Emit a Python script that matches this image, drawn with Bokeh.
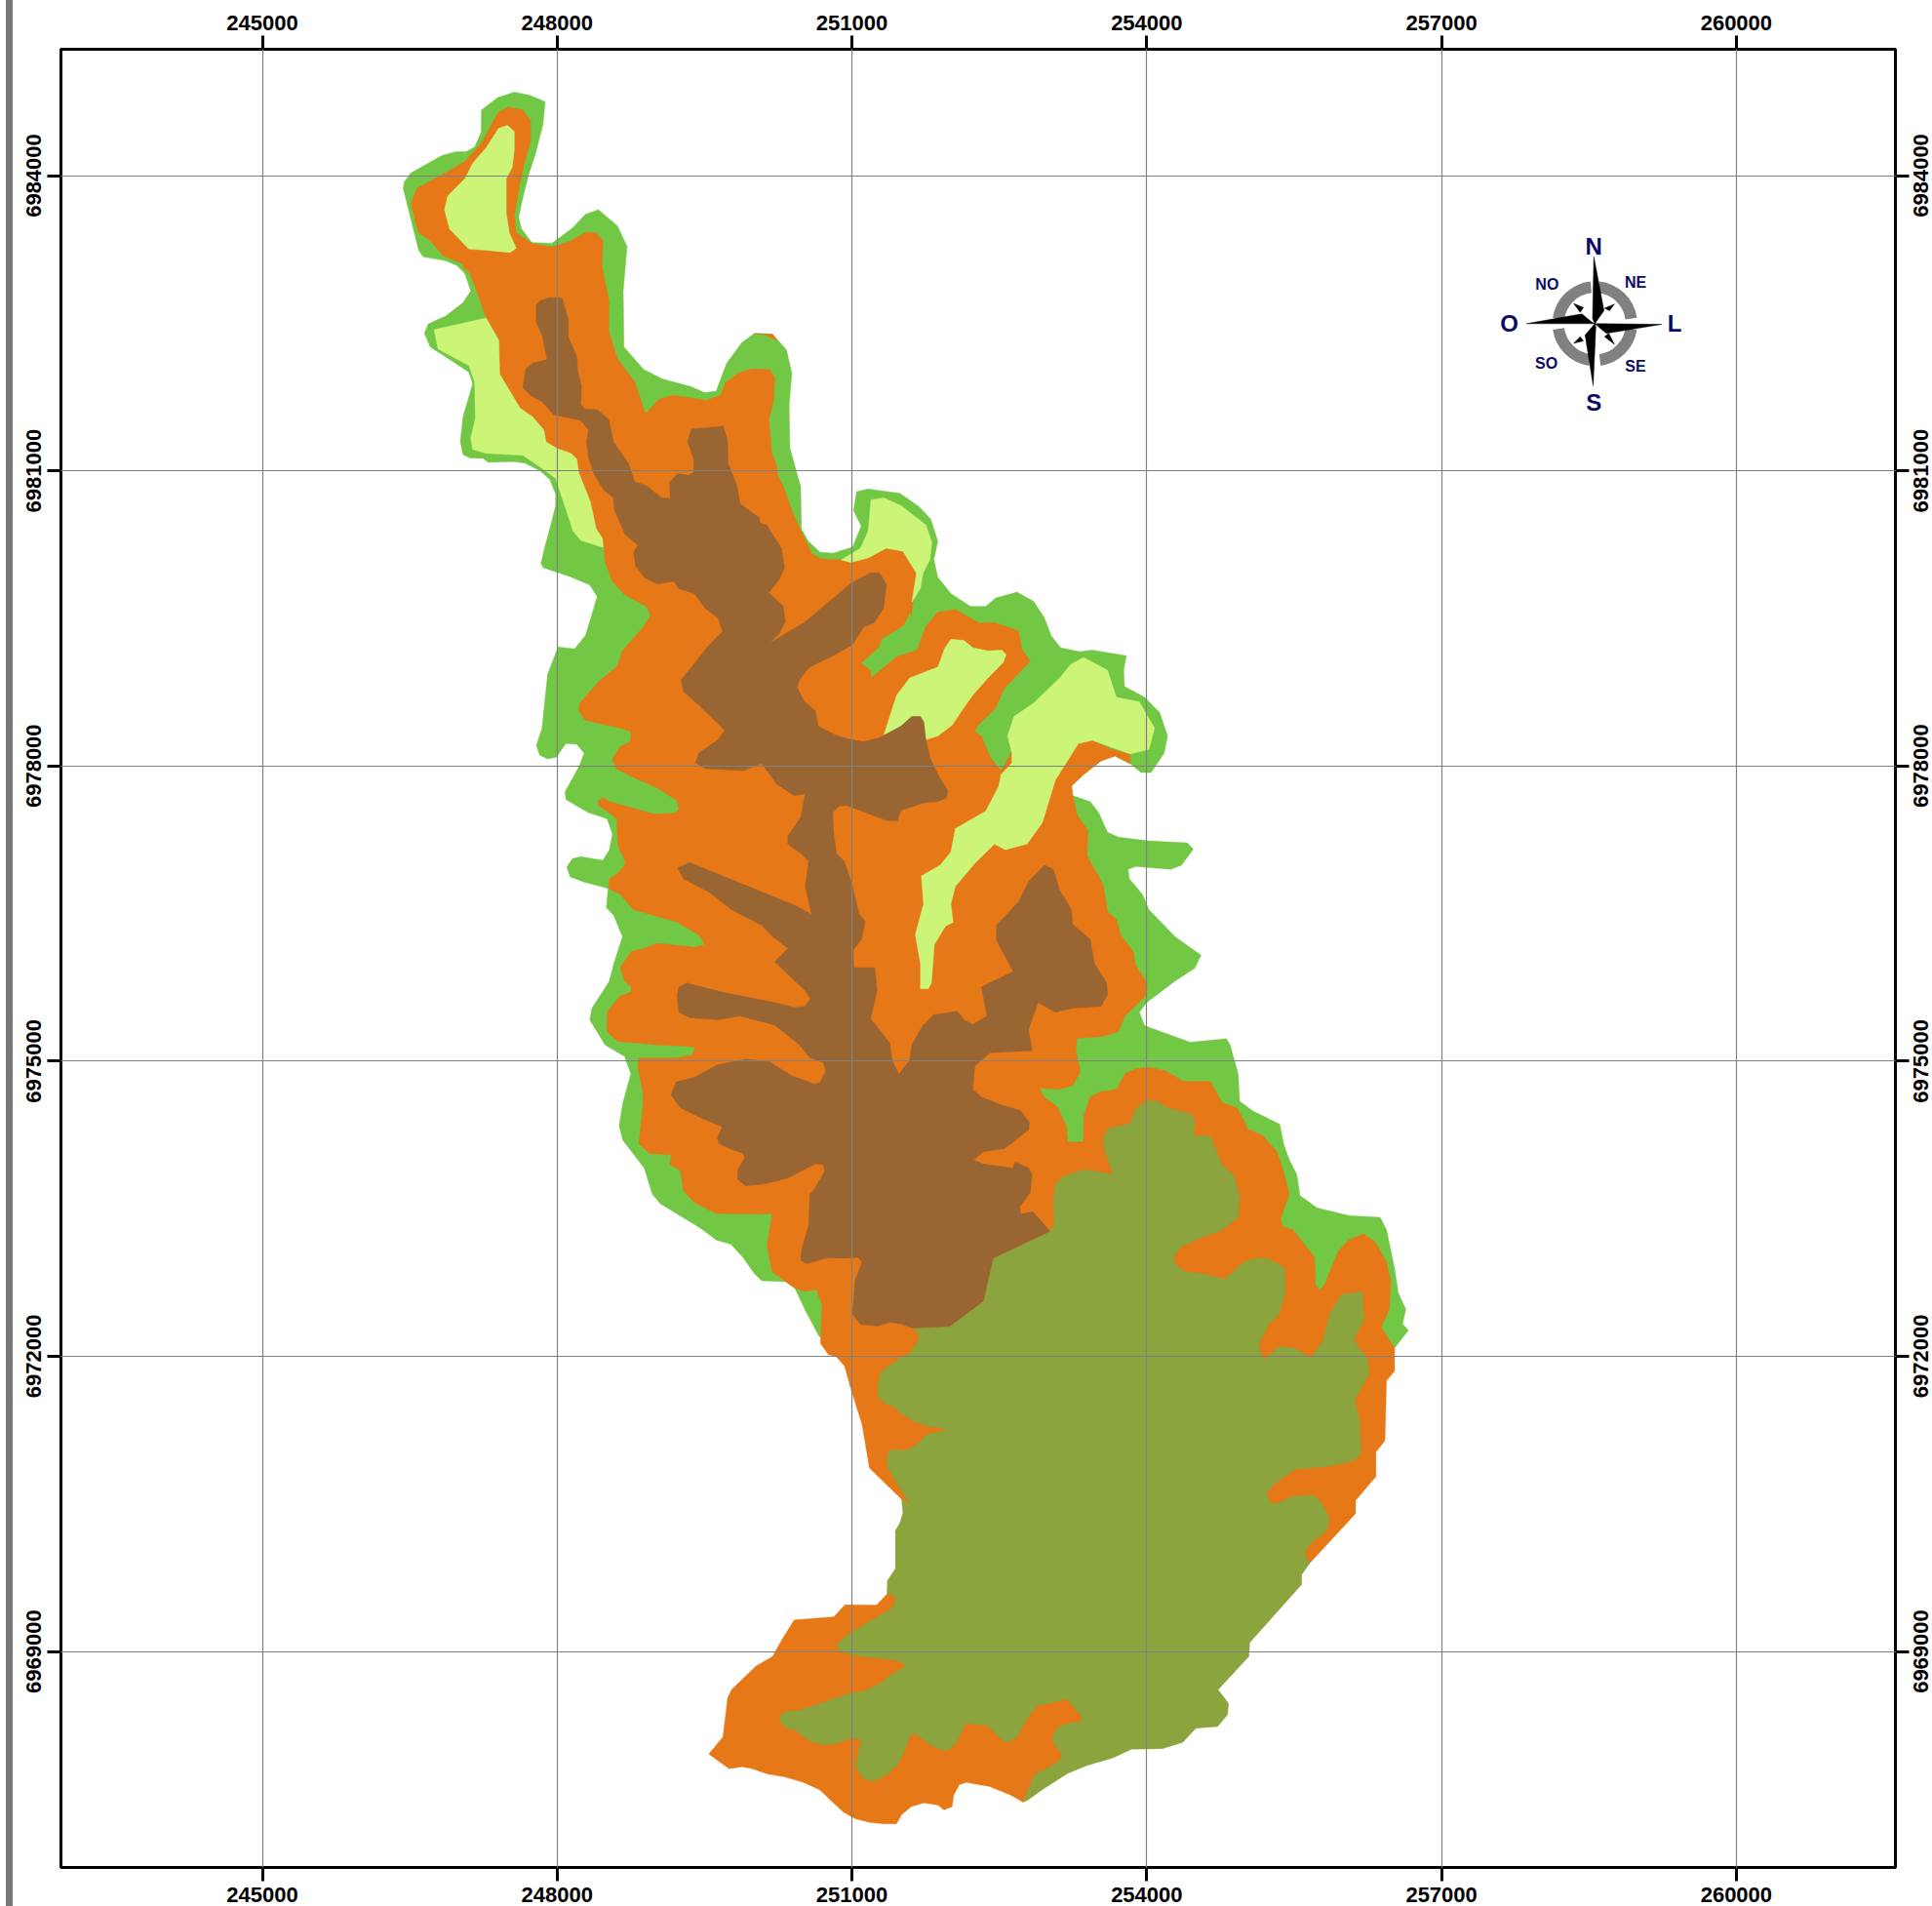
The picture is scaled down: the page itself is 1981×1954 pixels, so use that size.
from bokeh.plotting import figure
from bokeh.embed import file_html
from bokeh.resources import INLINE
from bokeh.layouts import row
from bokeh.models import LinearAxis, FixedTicker, NumeralTickFormatter, Range1d, Div
from bokeh.core.properties import value
import math

x_ticks = [245000, 248000, 251000, 254000, 257000, 260000]
y_ticks = [6969000, 6972000, 6975000, 6978000, 6981000, 6984000]

green_zone = [
(247564,6984849),(247717,6984818),(247878,6984751),(247855,6984519),(247780,6984224),(247709,6984008),(247650,6983772),(247607,6983575),(247639,6983457),(247741,6983320),
(247945,6983312),(248153,6983465),(248287,6983607),(248420,6983654),(248613,6983489),(248711,6983280),(248672,6982828),(248680,6982258),(248880,6982030),(249072,6981932),
(249359,6981857),(249500,6981794),(249618,6981810),(249724,6982093),(249881,6982305),(250007,6982396),(250191,6982388),(250333,6982231),(250388,6981995),(250361,6981668),
(250368,6981236),(250478,6980835),(250486,6980410),(250556,6980284),(250674,6980174),(250804,6980162),(251008,6980225),(251094,6980438),(251016,6980595),(251047,6980788),
(251165,6980815),(251487,6980772),(251684,6980634),(251802,6980508),(251873,6980284),(251834,6980096),(251873,6979919),(252010,6979750),(252207,6979622),(252362,6979622),
(252463,6979708),(252680,6979767),(252849,6979673),(252959,6979504),(253026,6979327),(253123,6979202),(253314,6979162),(253447,6979178),(253792,6979119),(253765,6978974),
(253774,6978809),(253977,6978699),(254132,6978542),(254212,6978306),(254177,6978130),(254044,6977933),(253942,6977933),(253845,6978012),(253677,6978102),(253535,6978051),
(253358,6977914),(253234,6977796),(253247,6977698),(253424,6977639),(253513,6977521),(253601,6977325),(253712,6977277),(254022,6977238),(254412,6977219),(254474,6977156),
(254354,6976991),(254243,6976948),(253889,6976979),(253810,6976948),(253823,6976853),(253956,6976696),(254022,6976539),(254288,6976264),(254553,6976076),(254487,6975942),
(254288,6975813),(254000,6975597),(253925,6975498),(253978,6975361),(254443,6975192),(254810,6975228),(254848,6975168),(254930,6974871),(254946,6974591),(255082,6974492),
(255353,6974360),(255397,6974145),(255451,6973997),(255527,6973848),(255560,6973634),(255734,6973508),(256060,6973429),(256375,6973413),(256440,6973287),(256522,6972891),
(256560,6972644),(256636,6972479),(256603,6972330),(256663,6972264),(256522,6972083),(250668,6972198),(250527,6972462),(250418,6972693),(250326,6972759),(250081,6972769),
(250005,6972842),(249891,6973007),(249766,6973139),(249619,6973182),(249456,6973304),(249049,6973551),(248967,6973650),(248886,6973914),(248668,6974195),(248630,6974343),
(248668,6974574),(248750,6974871),(248686,6975047),(248487,6975165),(248332,6975420),(248354,6975538),(248531,6975813),(248576,6975989),(248664,6976264),(248576,6976480),
(248500,6976559),(248518,6976755),(248266,6976822),(248133,6976873),(248097,6976971),(248155,6977058),(248244,6977077),(248465,6977042),(248531,6977148),(248562,6977305),
(248509,6977462),(248310,6977529),(248089,6977658),(248080,6977737),(248221,6977992),(248275,6978130),(248199,6978220),(248089,6978228),(247991,6978090),(247903,6978071),
(247823,6978110),(247788,6978208),(247846,6978385),(247903,6978935),(247965,6979092),(248009,6979210),(248177,6979190),(248288,6979327),(248407,6979720),(248332,6979838),
(248133,6979924),(247858,6980015),(247835,6980056),(247866,6980194),(247945,6980489),(247984,6980646),(247984,6980764),(247925,6980913),(247827,6981000),(247670,6981079),
(247552,6981094),(247297,6981086),(247246,6981126),(247112,6981130),(247042,6981165),(247014,6981295),(247042,6981550),(247140,6981885),(247100,6982002),(246924,6982120),
(246708,6982258),(246649,6982396),(246688,6982494),(246865,6982573),(247042,6982710),(247120,6982828),(247061,6983005),(246983,6983084),(246865,6983135),(246637,6983174),
(246590,6983241),(246492,6983634),(246433,6983870),(246445,6983937),(246512,6984028),(246826,6984204),(246971,6984244),(247073,6984244),(247160,6984291),(247226,6984440),
(247230,6984668),(247395,6984794),
]

orange_zone = [
(247501,6984696),(247650,6984668),(247729,6984558),(247729,6984342),(247650,6984067),(247611,6983870),(247564,6983595),(247584,6983418),(247749,6983308),(247945,6983273),
(248102,6983320),(248298,6983426),(248397,6983418),(248467,6983339),(248456,6983084),(248526,6982730),(248526,6982415),(248613,6982140),(248789,6981904),(248899,6981578),
(249037,6981727),(249182,6981767),(249516,6981716),(249665,6981767),(249712,6981896),(249849,6981995),(249987,6982034),(250163,6982030),(250215,6981944),(250203,6981708),
(250156,6981531),(250183,6981177),(250234,6981059),(250242,6980961),(250309,6980823),(250399,6980567),(250517,6980312),(250596,6980154),(250687,6980103),(250890,6980095),
(251165,6980115),(251350,6980213),(251519,6980182),(251656,6979958),(251605,6979525),(251595,6979563),(251520,6979425),(251299,6979288),(251277,6979209),(251091,6979045),
(251188,6978974),(251197,6978895),(251454,6979111),(251662,6979178),(251755,6979425),(251875,6979563),(252052,6979590),(252295,6979453),(252450,6979457),(252694,6979374),
(252729,6979190),(252813,6979064),(252548,6978785),(252463,6978589),(252273,6978404),(252251,6978346),(252317,6978306),(252406,6978090),(252517,6977953),(252694,6978267),
(253305,6978228),(253446,6978259),(253646,6978169),(253832,6978122),(253832,6978024),(253677,6978102),(253535,6978051),(253358,6977914),(253234,6977796),(253247,6977698),
(253291,6977501),(253402,6977344),(253393,6977089),(253557,6976794),(253601,6976520),(253690,6976441),(253734,6976284),(253867,6976107),(253880,6975989),(254000,6975793),
(254000,6975675),(253779,6975459),(253712,6975302),(253557,6975251),(253292,6975231),(253278,6975125),(253323,6974890),(253247,6974752),(253114,6974713),(252906,6974725),
(252959,6974634),(253092,6974536),(253181,6974340),(253196,6974178),(253353,6974178),(253359,6974442),(253424,6974640),(253533,6974690),(253696,6974713),(253777,6974871),
(253886,6974921),(254022,6974937),(254185,6974904),(254375,6974795),(254647,6974795),(254766,6974581),(254919,6974525),(255000,6974376),(255027,6974310),(255180,6974244),
(255326,6974079),(255381,6973914),(255451,6973650),(255364,6973403),(255381,6973320),(255489,6973287),(255707,6973007),(255718,6972726),(255761,6972667),(255815,6972743),
(255951,6973073),(256060,6973188),(256207,6973244),(256332,6973155),(256440,6972957),(256484,6972759),(256467,6972479),(256386,6972297),(256522,6972083),(256522,6971852),
(256440,6971753),(256424,6971142),(256332,6971027),(256332,6970779),(256125,6970534),(256125,6970402),(255659,6969898),(253500,6968700),(253400,6968200),(253200,6967900),(252741,6967469),(252620,6967538),
(252404,6967627),(252164,6967670),(252091,6967644),(252034,6967538),(252019,6967423),(251938,6967390),(251875,6967439),(251731,6967462),(251601,6967423),(251505,6967340),
(251452,6967248),(251322,6967248),(251178,6967264),(251034,6967301),(250913,6967367),(250817,6967456),(250673,6967594),(250505,6967670),(250312,6967726),(250144,6967753),
(249976,6967812),(249880,6967828),(249750,6967809),(249543,6967957),(249687,6968132),(249735,6968528),(249774,6968611),(250024,6968852),(250192,6968950),(250288,6969122),
(250413,6969320),(250817,6969353),(250928,6969475),(251250,6969472),(251356,6969584),(252164,6969914),(251596,6970482),(251505,6970548),(251178,6970864),(251103,6971307),
(250989,6971670),(250924,6971901),(250842,6971994),(250761,6972017),(250679,6972132),(250696,6972528),(250636,6972677),(250516,6972660),(250418,6972693),(250326,6972759),
(250190,6972858),(250136,6973122),(250190,6973452),(250081,6973446),(249619,6973452),(249402,6973558),(249283,6973683),(249255,6973888),(249147,6973947),(249158,6974046),
(248940,6974063),(248831,6974162),(248869,6974508),(248875,6974673),(248820,6974937),(248831,6975030),(249212,6975030),(249375,6975063),(249402,6975135),(249321,6975152),
(248994,6975168),(248614,6975201),(248505,6975300),(248509,6975400),(248509,6975498),(248633,6975656),(248753,6975703),(248753,6975754),(248686,6975813),(248642,6975950),
(248753,6976115),(248886,6976146),(249018,6976197),(249395,6976158),(249506,6976186),(249439,6976284),(249218,6976414),(248775,6976539),(248642,6976696),(248523,6976755),
(248531,6976853),(248620,6976912),(248700,6977010),(248620,6977187),(248607,6977462),(248531,6977521),(248421,6977599),(248421,6977647),(248465,6977678),(248531,6977639),
(248996,6977509),(249196,6977521),(249240,6977560),(249218,6977647),(249018,6977776),(248797,6977874),(248598,6977973),(248562,6978071),(248642,6978196),(248744,6978247),
(248753,6978346),(248642,6978385),(248288,6978463),(248221,6978562),(248230,6978640),(248421,6978856),(248611,6979013),(248664,6979170),(248886,6979425),(248952,6979532),
(248908,6979622),(248686,6979740),(248562,6979877),(248487,6980073),(248475,6980233),(248463,6980312),(248397,6980410),(248338,6980685),(248220,6980980),(248200,6981118),
(248141,6981177),(248004,6981224),(247886,6981295),(247866,6981413),(247749,6981550),(247623,6981637),(247415,6981983),(247407,6982325),(247277,6982553),(247160,6982887),
(247101,6983025),(247042,6983064),(247042,6983104),(246845,6983182),(246708,6983339),(246590,6983418),(246512,6983713),(246571,6983870),(246865,6984028),(247061,6984145),
(247238,6984342),(247395,6984637),
]
orange_sliver = [(250007,6982396),(250191,6982388),(250242,6982325),(250120,6982380)]

pale_north = [(247403,6984480),(247493,6984511),(247564,6984448),(247564,6984263),(247544,6984087),(247482,6983969),(247482,6983615),(247513,6983418),(247584,6983261),(247521,6983218),
(247277,6983241),(247101,6983253),(246904,6983457),(246853,6983654),(246885,6983792),(247061,6983969),(247140,6984126),(247277,6984283)]
pale_west = [(246747,6982435),(247277,6982553),(247407,6982325),(247415,6981983),(247623,6981637),(247749,6981550),(247866,6981413),(247886,6981295),(248004,6981224),(248141,6981177),
(248200,6981118),(248220,6980980),(248338,6980685),(248397,6980410),(248463,6980312),(248467,6980221),(248240,6980292),(248161,6980390),(248063,6980685),(247984,6980921),
(247827,6981039),(247650,6981157),(247277,6981177),(247140,6981216),(247120,6981334),(247167,6981531),(247160,6981904),(247101,6982069),(246787,6982238)]
pale_notch = [(251193,6980705),(251322,6980725),(251499,6980646),(251754,6980449),(251813,6980272),(251793,6980096),(251723,6979958),(251695,6979801),(251609,6979663),(251656,6979958),
(251519,6980182),(251350,6980213),(251165,6980115),(250988,6980068),(250890,6980095),(251087,6980213),(251165,6980390)]
pale_centre = [(252007,6979288),(252140,6979276),(252229,6979202),(252384,6979170),(252525,6979178),(252570,6979131),(252539,6979052),(252384,6978895),(252229,6978719),(252118,6978562),
(252021,6978416),(251875,6978306),(251755,6978267),(251697,6978503),(251609,6978503),(251498,6978404),(251321,6978306),(251454,6978719),(251587,6978895),(251875,6979005),(251941,6979190)]
pale_east = [(253358,6979103),(253601,6978974),(253690,6978699),(253925,6978652),(254080,6978385),(254022,6978169),(253832,6978122),(253446,6978259),(253305,6978228),(253070,6977855),
(252937,6977423),(252782,6977207),(252561,6977148),(252450,6977207),(252251,6977010),(252052,6976775),(252007,6976598),(252029,6976410),(251954,6976374),(251839,6976186),
(251808,6975793),(251777,6975734),(251697,6975734),(251697,6975989),(251644,6976284),(251728,6976598),(251706,6976881),(251897,6976991),(252007,6977128),(252052,6977364),
(252362,6977541),(252494,6977796),(252517,6977914),(252627,6978031),(252627,6978130),(252583,6978306),(252649,6978503),(252849,6978640),(253114,6978895),(253225,6979032)]

olive_zone = [
(253995,6974601),(254103,6974591),(254212,6974525),(254457,6974459),(254495,6974376),(254473,6974244),(254647,6974238),(254767,6973947),(254891,6973832),(254946,6973617),
(254930,6973413),(254756,6973277),(254593,6973221),(254364,6973122),(254277,6973023),(254283,6972941),(254402,6972852),(254538,6972848),(254794,6972786),(255000,6972967),
(255136,6973000),(255245,6972990),(255408,6972891),(255408,6972627),(255337,6972413),(255245,6972330),(255136,6972116),(255190,6971957),(255343,6972099),(255489,6972089),
(255669,6971984),(255788,6972149),(255870,6972446),(255978,6972627),(256196,6972660),(256212,6972363),(256114,6972198),(256125,6972132),(256250,6971967),(256261,6971819),
(256114,6971555),(256169,6971340),(256180,6971010),(256098,6970934),(255815,6970878),(255516,6970855),(255313,6970713),(255217,6970607),(255265,6970502),(255337,6970508),
(255471,6970574),(255683,6970591),(255760,6970541),(255851,6970376),(255851,6970277),(255808,6970205),(255697,6970129),(255616,6970030),(255616,6969964),(255659,6969898),
(255577,6969782),(255577,6969683),(255048,6969089),(255039,6968950),(254726,6968611),(254832,6968472),(254822,6968356),(254721,6968238),(254500,6968221),(254366,6968076),
(254159,6968013),(253846,6968007),(253654,6967918),(253390,6967842),(253197,6967762),(252933,6967594),(252789,6967489),(252741,6967469),(252861,6967753),(252957,6967802),
(253053,6967852),(253140,6967924),(253125,6967967),(253043,6968083),(253043,6968149),(253101,6968238),(253221,6968274),(253317,6968281),(253341,6968330),(253293,6968396),
(253183,6968518),(252885,6968446),(252803,6968347),(252668,6968116),(252558,6968073),(252380,6968248),(252164,6968271),(252043,6968050),(251962,6967984),(251813,6968040),
(251635,6968172),(251587,6968132),(251539,6968000),(251466,6967852),(251346,6967743),(251216,6967680),(251106,6967720),(251034,6967835),(251096,6968106),(250986,6968116),
(250841,6968066),(250707,6968050),(250553,6968099),(250433,6968198),(250327,6968224),(250264,6968297),(250274,6968347),(250327,6968390),(250471,6968403),(250721,6968485),
(250962,6968571),(251115,6968594),(251274,6968670),(251394,6968759),(251553,6968852),(251466,6968908),(251274,6968934),(251106,6968950),(250986,6968974),(250865,6969013),
(250841,6969073),(250986,6969188),(251202,6969320),(251394,6969429),(251438,6969485),(251438,6969558),(251394,6969584),(251356,6969584),(251361,6969723),(251442,6969842),
(251442,6970228),(251490,6970310),(251519,6970409),(251505,6970548),(251596,6970482),(251359,6970878),(251359,6971010),(251413,6971050),(251549,6971043),(251647,6971093),
(251766,6971208),(251957,6971248),(251929,6971268),(251766,6971291),(251630,6971340),(251495,6971423),(251429,6971489),(251332,6971522),(251266,6971588),(251266,6971736),
(251304,6971852),(251495,6971984),(251592,6972033),(251685,6972182),(251668,6972248),(251614,6972287),(251995,6972304),(252337,6972561),(252435,6972997),(253016,6973271),
(253060,6973353),(253049,6973584),(253071,6973749),(253152,6973832),(253370,6973898),(253658,6973848),(253560,6974129),(253560,6974228),(253614,6974317),(253832,6974366),
(253886,6974508),
]

brown_zone = [
(247925,6982761),(248051,6982757),(248114,6982533),(248114,6982356),(248200,6982160),(248208,6982022),(248247,6981865),(248240,6981676),(248279,6981629),(248408,6981621),
(248526,6981519),(248573,6981295),(248723,6981079),(248789,6980890),(248907,6980850),(249064,6980725),(249151,6980717),(249143,6980882),(249229,6980972),(249339,6980953),
(249390,6980988),(249390,6981118),(249327,6981295),(249367,6981425),(249693,6981452),(249732,6981314),(249740,6981079),(249830,6980843),(249861,6980666),(249967,6980587),
(250054,6980528),(250066,6980469),(250132,6980449),(250282,6980213),(250313,6980017),(250262,6979899),(250152,6979761),(250301,6979624),(250321,6979466),(250262,6979348),
(250164,6979250),(250524,6979465),(250989,6979857),(251188,6979964),(251277,6979964),(251352,6979850),(251321,6979602),(251224,6979453),(251122,6979414),(251002,6979229),
(250790,6979111),(250568,6979005),(250466,6978876),(250444,6978797),(250511,6978660),(250626,6978562),(250657,6978404),(250834,6978314),(250989,6978267),(251122,6978247),
(251277,6978287),(251498,6978404),(251609,6978503),(251697,6978503),(251733,6978444),(251751,6978267),(251799,6978071),(251875,6977914),(251976,6977749),(251963,6977678),
(251875,6977639),(251742,6977627),(251498,6977548),(251463,6977442),(251365,6977442),(250945,6977599),(250869,6977592),(250803,6977529),(250812,6977325),(250843,6977109),
(250922,6977030),(251002,6976794),(251069,6976500),(251135,6976421),(251100,6976245),(251011,6976127),(251020,6975950),(251232,6975950),(251255,6975715),(251188,6975432),
(251387,6975184),(251410,6975008),(251476,6974870),(251587,6975008),(251609,6975165),(251720,6975361),(251830,6975471),(252074,6975506),(252140,6975420),(252229,6975373),
(252375,6975459),(252317,6975754),(252641,6975911),(252472,6976225),(252472,6976382),(252694,6976618),(252804,6976834),(252959,6976991),(253048,6976951),(253114,6976736),
(253234,6976539),(253247,6976390),(253424,6976237),(253469,6975989),(253592,6975793),(253601,6975675),(253535,6975557),(253247,6975538),(253070,6975498),(252893,6975597),
(252796,6975322),(252835,6975106),(252406,6975086),(252251,6974949),(252229,6974713),(252317,6974635),(252517,6974556),(252716,6974497),(252804,6974379),(252799,6974304),
(252663,6974195),(252554,6974112),(252337,6974079),(252239,6973997),(252337,6973954),(252636,6973914),(252663,6973974),(252799,6973914),(252832,6973848),(252815,6973667),
(252707,6973518),(252717,6973446),(252842,6973469),(253016,6973271),(252435,6972997),(252337,6972561),(251995,6972304),(251614,6972287),(251495,6972330),(251386,6972347),
(251266,6972307),(251087,6972324),(251005,6972429),(251033,6972776),(251103,6972957),(251060,6973007),(250924,6972997),(250745,6973000),(250543,6972941),(250478,6972974),
(250489,6973089),(250560,6973337),(250571,6973650),(250609,6973683),(250723,6973881),(250707,6973947),(250625,6973954),(250353,6973815),(250136,6973756),(249918,6973733),
(249837,6973799),(249837,6973898),(249908,6974013),(249891,6974063),(249755,6974112),(249647,6974162),(249630,6974218),(249679,6974333),(249456,6974426),(249255,6974525),
(249158,6974657),(249212,6974789),(249402,6974838),(249620,6974960),(249918,6975020),(250163,6974993),(250380,6974855),(250625,6974766),(250679,6974789),(250734,6974904),
(250707,6974987),(250571,6975036),(250462,6975168),(250217,6975366),(249860,6975459),(249638,6975420),(249351,6975440),(249240,6975498),(249218,6975656),(249240,6975754),
(249320,6975793),(249705,6975695),(250214,6975597),(250413,6975546),(250524,6975557),(250577,6975636),(250524,6975715),(250214,6976009),(250347,6976146),(250192,6976264),
(250081,6976382),(249771,6976539),(249550,6976716),(249284,6976853),(249227,6976963),(249351,6977018),(250236,6976657),(250435,6976578),(250590,6976488),(250524,6976775),
(250559,6977030),(250480,6977109),(250347,6977207),(250347,6977285),(250480,6977482),(250524,6977717),(250413,6977698),(250236,6977815),(250081,6978024),(249895,6977953),
(249506,6977973),(249408,6978031),(249439,6978130),(249638,6978267),(249705,6978365),(249439,6978620),(249284,6978758),(249262,6978876),(249528,6979210),(249683,6979367),
(249638,6979504),(249506,6979602),(249395,6979751),(249240,6979799),(249187,6979877),(249018,6979850),(248886,6979916),(248797,6980034),(248778,6980174),(248821,6980245),
(248691,6980351),(248581,6980607),(248573,6980725),(248475,6980803),(248377,6980961),(248318,6981137),(248298,6981295),(248318,6981413),(248240,6981511),(247965,6981570),
(247847,6981700),(247729,6981767),(247650,6981845),(247682,6982042),(247749,6982093),(247898,6982132),(247847,6982376),(247788,6982514),(247788,6982691),(247827,6982730),
]

rose_centre = (258560, 6982495)
rose_needles = [
    [(-10,679),(93,132),(0,0),(-23,50)],
    [(679,-7),(116,-99),(0,0),(33,0)],
    [(-17,-629),(-99,-116),(0,0),(10,-33)],
    [(-695,0),(-132,99),(-33,17),(0,0)],
    [(-215,205),(-116,165),(-149,116)],
    [(199,199),(149,132),(99,156)],
    [(199,-209),(99,-132),(142,-99)],
    [(-215,-199),(-149,-132),(-116,-175)],
]
rose_arcs_deg = [(8,84),(96,172),(188,262),(278,352)]
rose_labels = ["N","NE","L","SE","S","SO","O","NO"]
rose_label_dx = [-10,414,811,414,-10,-493,-871,-486]
rose_label_dy = [784,421,0,-430,-801,-407,0,404]
rose_label_size = ["24px","16px","24px","16px","24px","16px","24px","16px"]

BAR_LEFT, BAR_W = 6, 7
W, H = 1968, 1954
XR, YR = (242950, 261619), (6966805, 6985284)
p = figure(width=W, height=H, output_backend="svg", toolbar_location=None,
           x_range=Range1d(*XR), y_range=Range1d(*YR),
           frame_width=1881, frame_height=1864,
           min_border_left=49, min_border_right=38, min_border_top=50, min_border_bottom=40,
           background_fill_color="white", border_fill_color="white", margin=(0, 0, 0, 0),
           x_axis_location="below", y_axis_location="left")

def poly(pts, color):
    p.patch([q[0] for q in pts], [q[1] for q in pts], fill_color=color, line_color=color, line_width=0.4)

GREEN, PALE, ORANGE, BROWN, OLIVE = "#72C745", "#CCF578", "#E67817", "#996633", "#8BA43D"
poly(green_zone, GREEN)
poly(orange_zone, ORANGE)
poly(orange_sliver, ORANGE)
for z in (pale_north, pale_west, pale_notch, pale_centre, pale_east):
    poly(z, PALE)
poly(olive_zone, OLIVE)
poly(brown_zone, BROWN)

cx, cy = rose_centre
for a0, a1 in rose_arcs_deg:
    p.annular_wedge(x=[cx], y=[cy], inner_radius=314, outer_radius=432,
                    start_angle=math.radians(a0), end_angle=math.radians(a1),
                    fill_color="#808080", line_color=None)
for n in rose_needles:
    p.patch([cx + q[0] for q in n], [cy + q[1] for q in n], fill_color="black", line_color="black", line_width=0.5)
for t, dx, dy, s in zip(rose_labels, rose_label_dx, rose_label_dy, rose_label_size):
    p.text(x=[cx + dx], y=[cy + dy], text=[t], text_font=value("Liberation Sans"), text_font_style="bold",
           text_font_size=s, text_color="#0B0B66", text_align="center", text_baseline="middle")

top_axis = LinearAxis()
right_axis = LinearAxis()
p.add_layout(top_axis, "above")
p.add_layout(right_axis, "right")
bottom_axis = p.below[0]
left_axis = p.left[0]

def style(ax):
    ax.formatter = NumeralTickFormatter(format="0")
    ax.axis_line_color = "black"
    ax.axis_line_width = 3
    ax.major_tick_line_color = "black"
    ax.major_tick_line_width = 3
    ax.major_tick_out = 14
    ax.major_tick_in = 0
    ax.minor_tick_line_color = None
    ax.major_label_standoff = 6
    ax.major_label_text_font = "Liberation Sans"
    ax.major_label_text_font_style = "bold"
    ax.major_label_text_font_size = "22px"
    ax.major_label_text_color = "black"
    ax.major_label_text_line_height = 0.8

for ax in (top_axis, bottom_axis):
    ax.ticker = FixedTicker(ticks=x_ticks)
    style(ax)
for ax in (left_axis, right_axis):
    ax.ticker = FixedTicker(ticks=y_ticks)
    style(ax)
left_axis.major_label_orientation = "parallel"

# Right edge: a tick-only axis, then a label axis stacked beside it. Its labels
# start at their tick, so the ticker is moved by half a rotated label's length.
right_axis.major_label_overrides = {t: "" for t in y_ticks}
right_axis.major_label_standoff = 0

HALF_LABEL = 424
right_labels = LinearAxis(ticker=FixedTicker(ticks=[t - HALF_LABEL for t in y_ticks]))
style(right_labels)
right_labels.axis_line_color = None
right_labels.major_tick_line_color = None
right_labels.major_tick_out = 0
right_labels.major_label_standoff = 12
right_labels.major_label_orientation = math.pi / 2
right_labels.major_label_overrides = {t - HALF_LABEL: str(t) for t in y_ticks}
p.add_layout(right_labels, "right")

p.outline_line_color = "black"
p.outline_line_width = 3
for g in list(p.xgrid) + list(p.ygrid):
    g.ticker = FixedTicker(ticks=x_ticks if g.dimension == 0 else y_ticks)
    g.grid_line_color = "#808080"
    g.grid_line_width = 1.2
    g.level = "overlay"

bar = Div(text="", width=BAR_W, height=H, margin=(0, 0, 0, BAR_LEFT),
          styles={"background-color": "#777777"})
page = row(bar, p, spacing=0)

open("out.html", "w").write(file_html(page, INLINE))
